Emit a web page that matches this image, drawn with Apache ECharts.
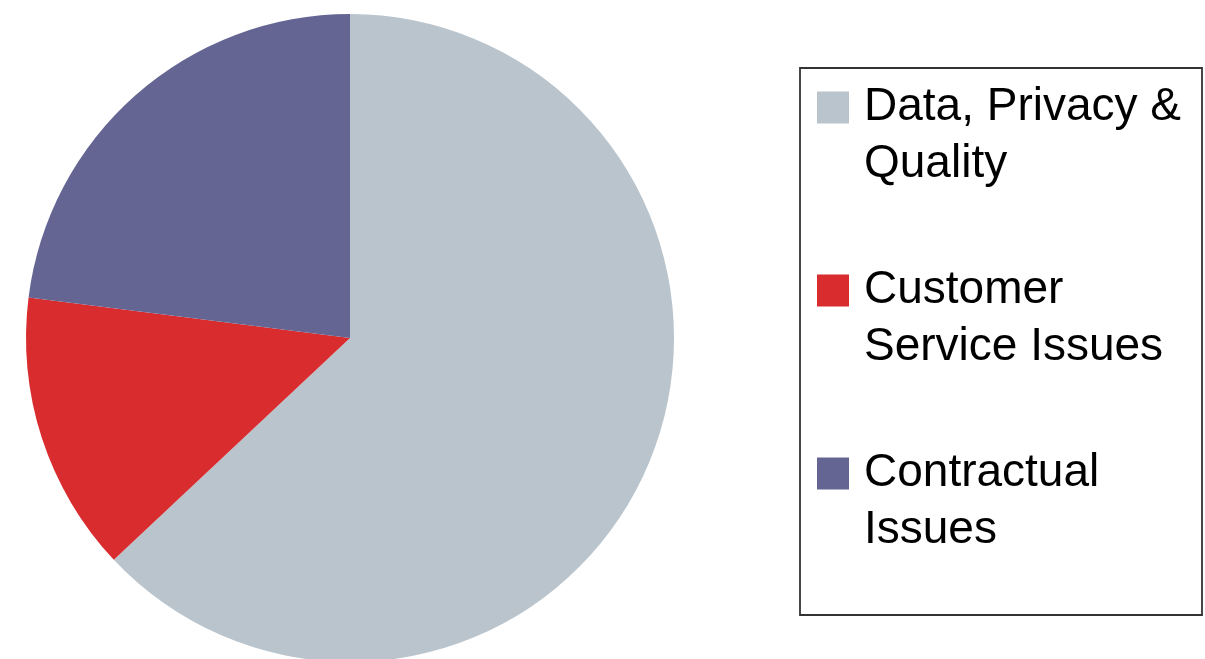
<!DOCTYPE html>
<html>
<head>
<meta charset="utf-8">
<script src="https://cdn.jsdelivr.net/npm/echarts@6/dist/echarts.min.js"></script>
<style>
  html, body { margin: 0; padding: 0; background: #ffffff; }
  #chart { width: 1205px; height: 659px; }
</style>
</head>
<body>
<div id="chart"></div>
<script>
// Complaint categories, their shares (%) and slice colours
var categories = ['Data, Privacy & Quality', 'Customer Service Issues', 'Contractual Issues'];
var shares = [63, 14, 23];
var colors = ['#b9c4cc', '#d82c2e', '#646592'];
// Legend text, wrapped over two lines
var legendLabels = ['Data, Privacy &\nQuality', 'Customer\nService Issues', 'Contractual\nIssues'];

var LINE = 57;

var chart = echarts.init(document.getElementById('chart'), null, { renderer: 'canvas' });

var pieData = categories.map(function (name, i) {
  return { name: name, value: shares[i], itemStyle: { color: colors[i] } };
});

chart.setOption({
  animation: false,
  backgroundColor: '#ffffff',
  legend: {
    orient: 'vertical',
    left: 817,
    top: 22,
    padding: 0,
    itemGap: 12,
    itemWidth: 32,
    itemHeight: 32,
    icon: 'rect',
    selectedMode: false,
    data: categories,
    // a leading blank line keeps the first text line level with the swatch
    formatter: function (name) {
      return '\n' + legendLabels[categories.indexOf(name)];
    },
    textStyle: {
      fontFamily: 'Liberation Sans, Arial, Helvetica, sans-serif',
      fontSize: 46,
      lineHeight: LINE,
      color: '#000000',
      padding: [0, 0, 0, 10],
      backgroundColor: 'transparent'
    }
  },
  graphic: [{
    type: 'rect',
    shape: { x: 800, y: 68, width: 402, height: 547 },
    style: { fill: 'none', stroke: '#333333', lineWidth: 1.8 },
    silent: true
  }],
  series: [{
    type: 'pie',
    center: [350, 338],
    radius: 324,
    startAngle: 90,
    clockwise: true,
    label: { show: false },
    labelLine: { show: false },
    emphasis: { disabled: true },
    itemStyle: { borderWidth: 0 },
    data: pieData
  }]
});
</script>
</body>
</html>
